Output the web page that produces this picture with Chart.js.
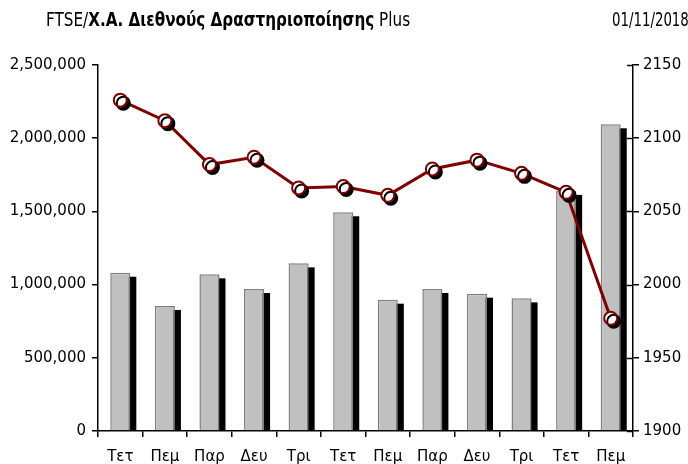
<!DOCTYPE html>
<html>
<head>
<meta charset="utf-8">
<script src="https://cdn.jsdelivr.net/npm/chart.js@4/dist/chart.umd.min.js"></script>
<style>
  html, body { margin: 0; padding: 0; background: #fff; overflow: hidden; }
  #wrap { position: relative; width: 688px; height: 464px; overflow: hidden; }
  .hdr { position: absolute; top: 8px; font-family: 'Liberation Sans Narrow', 'DejaVu Sans Condensed', sans-serif; font-size: 19px; color: #000; white-space: nowrap; transform: scaleX(0.89); transform-origin: left top; }
  #title { left: 46px; }
  #date { left: 612px; transform: scaleX(0.78); }
  canvas { position: absolute; left: 0; top: 0; }
</style>
</head>
<body>
<div id="wrap">
  <canvas id="chart" width="688" height="464"></canvas>
  <div class="hdr" id="title">FTSE/<b>Χ.Α. Διεθνούς Δραστηριοποίησης</b> Plus</div>
  <div class="hdr" id="date">01/11/2018</div>
</div>
<script>
// days of the sessions, turnover (left axis) and index close (right axis)
const categories = ['Τετ', 'Πεμ', 'Παρ', 'Δευ', 'Τρι', 'Τετ', 'Πεμ', 'Παρ', 'Δευ', 'Τρι', 'Τετ', 'Πεμ'];
const volumes = [1081000, 854000, 1070000, 970000, 1145000, 1494000, 897000, 970000, 938000, 906000, 1640000, 2095000];
const indexValues = [2126, 2112, 2082, 2087, 2066, 2067, 2061, 2079, 2085, 2076, 2063, 1977];

const leftTicks = [0, 500000, 1000000, 1500000, 2000000, 2500000];
const rightTicks = [1900, 1950, 2000, 2050, 2100, 2150];

const tickFont = { family: 'DejaVu Sans', size: 15 };

// black drop shadow: bars get a rect behind them, markers use canvas shadow
const shadowPlugin = {
  id: 'shadows',
  beforeDatasetDraw(chart, args) {
    const ds = chart.data.datasets[args.index];
    if (!ds.shadow) return;
    const ctx = chart.ctx;
    ctx.save();
    if (ds.type === 'bar') {
      ctx.fillStyle = '#000';
      args.meta.data.forEach(bar => {
        const w = bar.width;
        ctx.fillRect(bar.x - w / 2 + ds.shadow[0], bar.y + ds.shadow[1], w, bar.base - bar.y - ds.shadow[1]);
      });
      ctx.restore();
      return;
    }
    ctx.shadowColor = '#000';
    ctx.shadowBlur = 0;
    ctx.shadowOffsetX = ds.shadow[0];
    ctx.shadowOffsetY = ds.shadow[1];
  },
  afterDatasetDraw(chart, args) {
    const ds = chart.data.datasets[args.index];
    if (ds.shadow && ds.type !== 'bar') chart.ctx.restore();
  }
};

// right axis ticks cross the axis line, draw the inner half
const innerTicks = {
  id: 'innerTicks',
  afterDraw(chart) {
    const s = chart.scales.y1;
    const ctx = chart.ctx;
    ctx.save();
    ctx.strokeStyle = '#000';
    ctx.lineWidth = 1.5;
    s.ticks.forEach(t => {
      const y = Math.round(s.getPixelForValue(t.value)) + 0.5;
      ctx.beginPath();
      ctx.moveTo(s.left - 6, y);
      ctx.lineTo(s.left, y);
      ctx.stroke();
    });
    ctx.restore();
  }
};

new Chart(document.getElementById('chart'), {
  type: 'bar',
  data: {
    labels: categories,
    datasets: [
      {
        type: 'line',
        data: indexValues,
        yAxisID: 'y1',
        borderColor: '#800000',
        borderWidth: 3,
        pointRadius: 0,
        tension: 0,
        order: 2
      },
      {
        type: 'line',
        data: indexValues,
        yAxisID: 'y1',
        showLine: false,
        pointRadius: 6.5,
        pointBorderWidth: 2,
        pointBorderColor: '#800000',
        pointBackgroundColor: '#fff',
        shadow: [3, 3],
        order: 1
      },
      {
        type: 'bar',
        data: volumes,
        yAxisID: 'y',
        backgroundColor: '#c0c0c0',
        borderColor: '#808080',
        borderWidth: 1.5,
        barPercentage: 0.9,
        categoryPercentage: 0.5,
        shadow: [6, 4],
        order: 3
      }
    ]
  },
  options: {
    responsive: false,
    animation: false,
    layout: { padding: { top: 65, left: 0, right: 0, bottom: 0 } },
    plugins: { legend: { display: false }, tooltip: { enabled: false }, title: { display: false } },
    scales: {
      x: {
        grid: { display: true, drawOnChartArea: false, drawTicks: true, tickLength: 6, color: '#000', lineWidth: 1.5, offset: true },
        border: { display: true, color: '#000', width: 1.5 },
        ticks: { color: '#000', font: tickFont, padding: 11, maxRotation: 0, autoSkip: false },
        afterFit(s) { s.height = 33; }
      },
      y: {
        position: 'left',
        min: 0,
        max: 2500000,
        afterBuildTicks(s) { s.ticks = leftTicks.map(v => ({ value: v })); },
        grid: { drawOnChartArea: false, drawTicks: true, tickLength: 6, color: '#000', lineWidth: 1.5 },
        border: { display: true, color: '#000', width: 1.5 },
        ticks: { color: '#000', font: tickFont, padding: 6, callback: v => v.toLocaleString('en-US') },
        afterFit(s) { s.width = 98; }
      },
      y1: {
        position: 'right',
        min: 1900,
        max: 2150,
        afterBuildTicks(s) { s.ticks = rightTicks.map(v => ({ value: v })); },
        grid: { drawOnChartArea: false, drawTicks: true, tickLength: 6, color: '#000', lineWidth: 1.5 },
        border: { display: true, color: '#000', width: 1.5 },
        ticks: { color: '#000', font: tickFont, padding: 4, callback: v => String(v) },
        afterFit(s) { s.width = 55; }
      }
    }
  },
  plugins: [shadowPlugin, innerTicks]
});
</script>
</body>
</html>
